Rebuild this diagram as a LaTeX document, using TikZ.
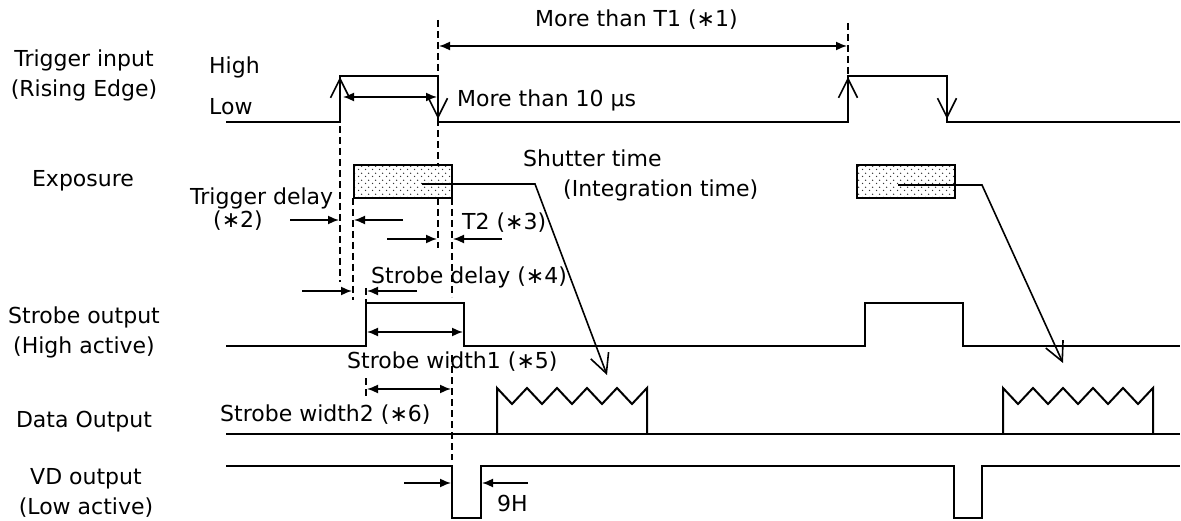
\documentclass[tikz,border=0pt]{standalone}
\usepackage{fontspec}
\setmainfont{DejaVu Sans}
\usetikzlibrary{arrows.meta, patterns}

% sparse dot fill of the exposure blocks
\pgfdeclarepatternformonly{expdots}{\pgfpointorigin}{\pgfpoint{7pt}{7pt}}{\pgfpoint{7pt}{7pt}}{
  \pgfpathcircle{\pgfpoint{1.75pt}{1.75pt}}{0.8pt}
  \pgfpathcircle{\pgfpoint{5.25pt}{5.25pt}}{0.8pt}
  \pgfusepath{fill}
}

\begin{document}
\begin{tikzpicture}[x=1pt, y=-1pt,
    wave/.style={line width=2pt},
    guide/.style={line width=1.5pt, dash pattern=on 7pt off 4pt},
    dim/.style={line width=1.6pt, -{Latex[length=11pt, width=9pt]}},
    dimboth/.style={line width=1.6pt, {Latex[length=11pt, width=9pt]}-{Latex[length=11pt, width=9pt]}},
    edgearr/.style={line width=1.6pt, -{Straight Barb[length=19pt, width=19pt]}},
    lbl/.style={inner sep=0pt, font=\fontsize{22}{30}\selectfont, anchor=west},
    side/.style={inner sep=0pt, font=\fontsize{22}{30}\selectfont, align=center},
    expbox/.style={draw, line width=2pt, pattern=expdots, pattern color=black!80,
      minimum width=98pt, minimum height=33pt, inner sep=0pt}]
  \useasboundingbox (0,0) rectangle (1181,521);

  % signal names
  \node[side] (sTrig) at (84,75) {Trigger input\\(Rising Edge)};
  \node[side] (sExp) at (83,181) {Exposure};
  \node[side] (sStr) at (84,332) {Strobe output\\(High active)};
  \node[side] (sData) at (84,422) {Data Output};
  \node[side] (sVD) at (86,493) {VD output\\(Low active)};
  \node[lbl] (lHigh) at (209,67) {High};
  \node[lbl] (lLow) at (209,107) {Low};

  % guide lines
  \draw[guide] (438,20) -- (438,165);
  \draw[guide] (438,198) -- (438,248);
  \draw[guide] (848,23) -- (848,76);
  \draw[guide] (340,126) -- (340,282);
  \draw[guide] (353,198) -- (353,300);
  \draw[guide] (452,198) -- (452,297);
  \draw[guide] (366,288) -- (366,303);
  \draw[guide] (366,378) -- (366,396);
  \draw[guide] (452,355) -- (452,460);

  % trigger input
  \draw[wave] (226,122) -- (340,122) -- (340,76) -- (438,76) -- (438,122)
    -- (848,122) -- (848,76) -- (947,76) -- (947,122) -- (1180,122);
  \draw[edgearr] (340,122) -- (340,77);
  \draw[edgearr] (438,76) -- (438,119);
  \draw[edgearr] (848,122) -- (848,77);
  \draw[edgearr] (947,76) -- (947,119);

  % exposure
  \node[expbox] (exp1) at (402.5,181.5) {};
  \node[expbox] (exp2) at (906,181.5) {};
  \coordinate (sh1) at (607,375);
  \coordinate (sh2) at (1063,363);
  \draw[edgearr] (422,184) -- (535,184) -- (sh1);
  \draw[edgearr] (898,185) -- (982,185) -- (sh2);

  % strobe output
  \draw[wave] (226,346) -- (366,346) -- (366,303) -- (464,303) -- (464,346)
    -- (865,346) -- (865,303) -- (963,303) -- (963,346) -- (1180,346);

  % data output
  \draw[wave] (226,434) -- (1180,434);
  \foreach \s in {497,1003}
    \draw[wave] (\s,434) -- (\s,388)
      \foreach \k in {1,...,5} { -- ++(15,16) -- ++(15,-16) } -- ++(0,46);

  % VD output
  \draw[wave] (226,466) -- (452,466) -- (452,518) -- (481,518) -- (481,466)
    -- (954,466) -- (954,518) -- (982,518) -- (982,466) -- (1180,466);

  % timing marks
  \draw[dimboth] (439,46) -- (847,46);
  \draw[dimboth] (343,97) -- (437,97);
  \draw[dim] (290,220) -- (339,220);
  \draw[dim] (403,220) -- (354,220);
  \draw[dim] (387,239) -- (437,239);
  \draw[dim] (502,239) -- (453,239);
  \draw[dim] (302,291) -- (352,291);
  \draw[dim] (417,291) -- (367,291);
  \draw[dimboth] (367,332) -- (463,332);
  \draw[dimboth] (367,389) -- (451,389);
  \draw[dim] (404,483) -- (451,483);
  \draw[dim] (528,483) -- (482,483);

  % texts
  \node[lbl] (tT1) at (535,20) {More than T1 (∗1)};
  \node[lbl] (tTen) at (457,100) {More than 10 µs};
  \node[lbl] (tShut) at (523,158) {Shutter time};
  \node[lbl] (tInt) at (563,190) {(Integration time)};
  \node[lbl] (tTd) at (190,198) {Trigger delay};
  \node[lbl] (tTdn) at (213,221) {(∗2)};
  \node[lbl] (tT2) at (462,223) {T2 (∗3)};
  \node[lbl] (tSd) at (371,277) {Strobe delay (∗4)};
  \node[lbl] (tSw1) at (347,362) {Strobe width1 (∗5)};
  \node[lbl] (tSw2) at (220,415) {Strobe width2 (∗6)};
  \node[lbl] (t9H) at (497,503) {9H};
\end{tikzpicture}
\end{document}
